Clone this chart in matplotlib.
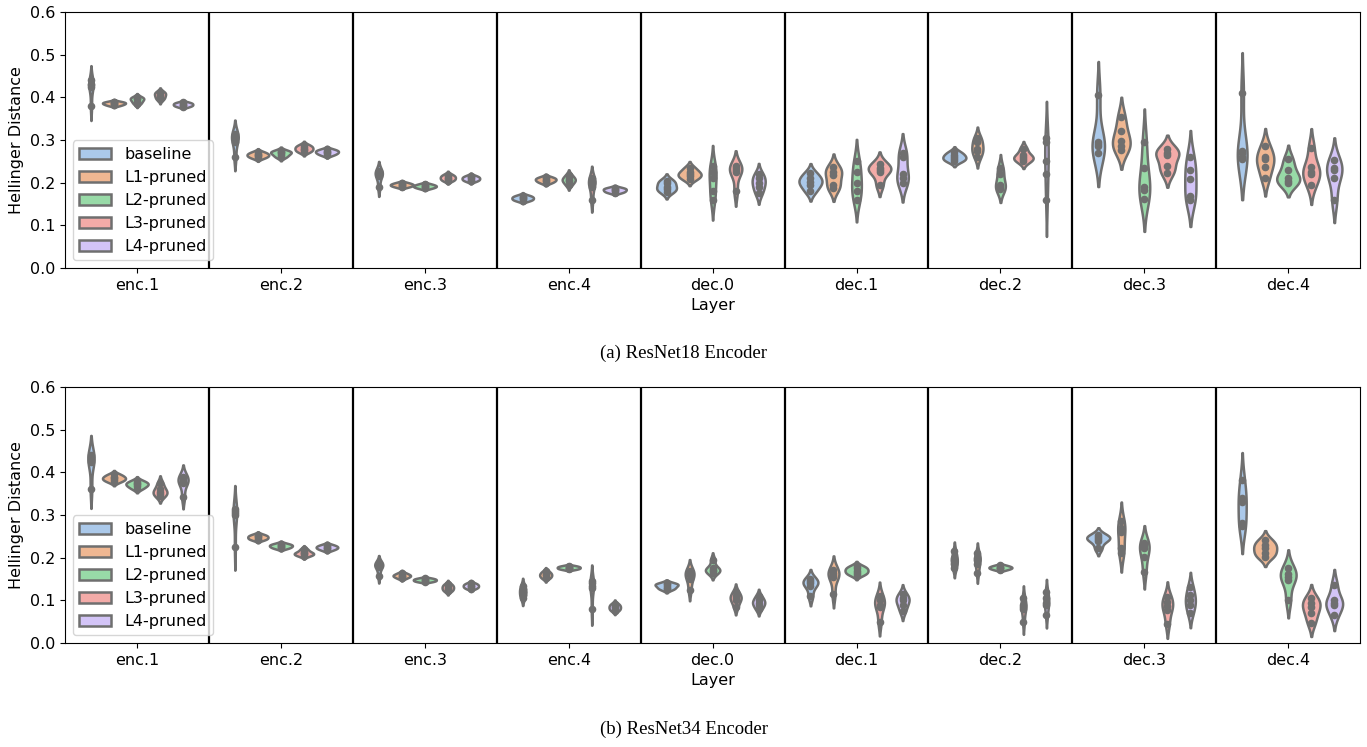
import numpy as np
import pandas as pd
import matplotlib
matplotlib.use("Agg")
import matplotlib.pyplot as plt
import seaborn as sns

LAYERS = ["enc.1", "enc.2", "enc.3", "enc.4", "dec.0", "dec.1", "dec.2", "dec.3", "dec.4"]
MODELS = ["baseline", "L1-pruned", "L2-pruned", "L3-pruned", "L4-pruned"]

# ---- ResNet18 encoder: per layer, one list of samples per model (order = MODELS)
R18_ENC1 = [[0.44, 0.432, 0.428, 0.425, 0.38], [0.381, 0.384, 0.386, 0.388, 0.390],
            [0.385, 0.39, 0.395, 0.398, 0.40], [0.395, 0.40, 0.405, 0.41, 0.412],
            [0.378, 0.381, 0.383, 0.386, 0.388]]
R18_ENC2 = [[0.315, 0.31, 0.305, 0.295, 0.26], [0.258, 0.262, 0.265, 0.268, 0.272],
            [0.26, 0.265, 0.27, 0.272, 0.275], [0.272, 0.276, 0.28, 0.284, 0.288],
            [0.265, 0.269, 0.272, 0.275, 0.278]]
R18_ENC3 = [[0.228, 0.225, 0.22, 0.215, 0.19], [0.19, 0.193, 0.195, 0.197, 0.20],
            [0.187, 0.19, 0.192, 0.194, 0.197], [0.205, 0.208, 0.212, 0.215, 0.219],
            [0.204, 0.207, 0.21, 0.213, 0.216]]
R18_ENC4 = [[0.158, 0.161, 0.164, 0.167, 0.17], [0.20, 0.204, 0.207, 0.21, 0.213],
            [0.195, 0.203, 0.207, 0.21, 0.218], [0.21, 0.205, 0.20, 0.19, 0.16],
            [0.177, 0.18, 0.183, 0.186, 0.188]]
R18_DEC0 = [[0.205, 0.20, 0.19, 0.185, 0.178], [0.235, 0.225, 0.22, 0.215, 0.208],
            [0.24, 0.225, 0.21, 0.18, 0.16], [0.24, 0.235, 0.23, 0.225, 0.18],
            [0.22, 0.21, 0.20, 0.19, 0.175]]
R18_DEC1 = [[0.222, 0.21, 0.202, 0.195, 0.18], [0.237, 0.226, 0.218, 0.195, 0.187],
            [0.25, 0.225, 0.20, 0.18, 0.16], [0.245, 0.235, 0.23, 0.225, 0.195],
            [0.27, 0.26, 0.22, 0.21, 0.20]]
R18_DEC2 = [[0.272, 0.265, 0.26, 0.255, 0.25], [0.305, 0.295, 0.28, 0.275, 0.26],
            [0.235, 0.22, 0.195, 0.19, 0.185], [0.28, 0.265, 0.26, 0.255, 0.25],
            [0.305, 0.295, 0.25, 0.22, 0.16]]
R18_DEC3 = [[0.405, 0.295, 0.29, 0.285, 0.27], [0.355, 0.322, 0.298, 0.287, 0.277],
            [0.296, 0.234, 0.19, 0.183, 0.163], [0.278, 0.27, 0.265, 0.239, 0.223],
            [0.261, 0.23, 0.208, 0.169, 0.159]]
R18_DEC4 = [[0.41, 0.275, 0.27, 0.26, 0.255], [0.286, 0.261, 0.255, 0.237, 0.21],
            [0.255, 0.231, 0.21, 0.205, 0.20], [0.281, 0.237, 0.225, 0.22, 0.195],
            [0.253, 0.235, 0.23, 0.21, 0.159]]

# ---- ResNet34 encoder
R34_ENC1 = [[0.44, 0.435, 0.43, 0.425, 0.362], [0.378, 0.383, 0.386, 0.39, 0.395],
            [0.362, 0.368, 0.372, 0.375, 0.38], [0.375, 0.362, 0.355, 0.35, 0.345],
            [0.39, 0.385, 0.38, 0.375, 0.342]]
R34_ENC2 = [[0.315, 0.31, 0.305, 0.30, 0.225], [0.242, 0.245, 0.248, 0.251, 0.254],
            [0.222, 0.225, 0.228, 0.23, 0.233], [0.205, 0.208, 0.21, 0.213, 0.22],
            [0.218, 0.222, 0.224, 0.227, 0.23]]
R34_ENC3 = [[0.188, 0.185, 0.182, 0.178, 0.158], [0.152, 0.156, 0.158, 0.16, 0.164],
            [0.144, 0.146, 0.148, 0.15, 0.152], [0.122, 0.126, 0.13, 0.134, 0.138],
            [0.128, 0.131, 0.134, 0.137, 0.14]]
R34_ENC4 = [[0.105, 0.113, 0.12, 0.127, 0.135], [0.152, 0.156, 0.16, 0.163, 0.168],
            [0.173, 0.175, 0.177, 0.179, 0.181], [0.145, 0.14, 0.135, 0.13, 0.08],
            [0.076, 0.08, 0.084, 0.088, 0.092]]
R34_DEC0 = [[0.14, 0.138, 0.135, 0.13, 0.126], [0.17, 0.165, 0.16, 0.15, 0.125],
            [0.195, 0.175, 0.172, 0.17, 0.165], [0.12, 0.11, 0.105, 0.10, 0.085],
            [0.11, 0.10, 0.095, 0.09, 0.08]]
R34_DEC1 = [[0.15, 0.145, 0.14, 0.135, 0.11], [0.172, 0.165, 0.16, 0.155, 0.115],
            [0.18, 0.175, 0.17, 0.165, 0.16], [0.11, 0.10, 0.09, 0.085, 0.05],
            [0.115, 0.105, 0.10, 0.09, 0.075]]
R34_DEC2 = [[0.215, 0.20, 0.195, 0.185, 0.175], [0.21, 0.20, 0.195, 0.185, 0.165],
            [0.172, 0.175, 0.177, 0.179, 0.182], [0.105, 0.09, 0.085, 0.08, 0.05],
            [0.12, 0.105, 0.095, 0.09, 0.065]]
R34_DEC3 = [[0.253, 0.248, 0.245, 0.24, 0.222], [0.285, 0.27, 0.26, 0.222, 0.212],
            [0.235, 0.23, 0.222, 0.202, 0.167], [0.109, 0.097, 0.087, 0.077, 0.046],
            [0.132, 0.112, 0.10, 0.089, 0.07]]
R34_DEC4 = [[0.382, 0.339, 0.331, 0.282, 0.274], [0.241, 0.23, 0.222, 0.21, 0.202],
            [0.177, 0.163, 0.155, 0.148, 0.101], [0.105, 0.095, 0.085, 0.07, 0.048],
            [0.136, 0.10, 0.095, 0.089, 0.066]]

R18 = [R18_ENC1, R18_ENC2, R18_ENC3, R18_ENC4, R18_DEC0, R18_DEC1, R18_DEC2, R18_DEC3, R18_DEC4]
R34 = [R34_ENC1, R34_ENC2, R34_ENC3, R34_ENC4, R34_DEC0, R34_DEC1, R34_DEC2, R34_DEC3, R34_DEC4]

CAPTIONS = ["(a) ResNet18 Encoder", "(b) ResNet34 Encoder"]


def to_frame(panel):
    rows = []
    for layer, per_model in zip(LAYERS, panel):
        for model, vals in zip(MODELS, per_model):
            for v in vals:
                rows.append((layer, model, v))
    return pd.DataFrame(rows, columns=["Layer", "Model", "Hellinger Distance"])


FS = 11.5
fig = plt.figure(figsize=(13.67, 7.47), dpi=100)
ax_pos = [[0.0476, 0.641, 0.9474, 0.343], [0.0476, 0.139, 0.9474, 0.343]]
cap_y = [1 - 353 / 747, 1 - 729 / 747]

for panel, pos, cap, cy in zip([R18, R34], ax_pos, CAPTIONS, cap_y):
    ax = fig.add_axes(pos)
    df = to_frame(panel)
    # violins scaled to equal area within each layer group
    for j, layer in enumerate(LAYERS):
        sub = df[df["Layer"] == layer]
        sns.violinplot(data=sub, x="Layer", y="Hellinger Distance", hue="Model",
                       order=LAYERS, hue_order=MODELS, palette="pastel",
                       inner="point", linewidth=1.8, density_norm="area",
                       common_norm=True, inner_kws=dict(s=20),
                       legend=(j == 0), ax=ax)
    for i in range(len(LAYERS) - 1):
        ax.axvline(i + 0.5, color="black", lw=1.6)
    ax.set_ylim(0, 0.6)
    ax.set_yticks(np.arange(0, 0.61, 0.1))
    ax.set_xlim(-0.5, len(LAYERS) - 0.5)
    ax.tick_params(labelsize=FS)
    ax.set_xlabel("Layer", fontsize=FS)
    ax.set_ylabel("Hellinger Distance", fontsize=FS)
    ax.legend(loc="lower left", fontsize=FS)
    fig.text(0.5, cy, cap, ha="center", va="center",
             family="Liberation Serif", fontsize=13.5)

fig.savefig("out.png", dpi=100)
